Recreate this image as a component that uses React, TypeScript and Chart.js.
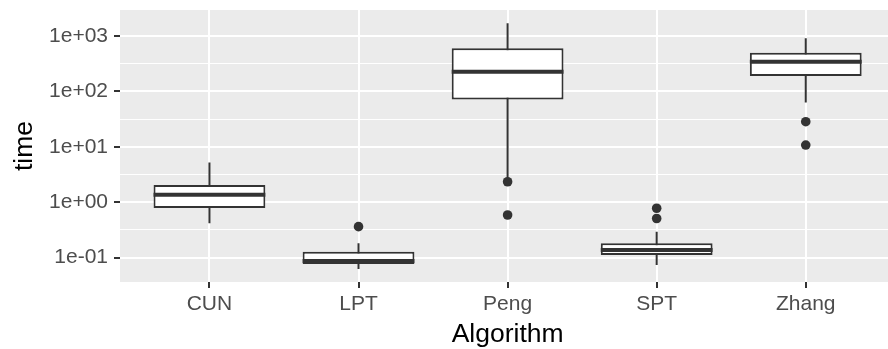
import React, { useEffect, useRef } from 'react';
import { Chart, registerables } from 'chart.js';

Chart.register(...registerables);

const categories = ['CUN', 'LPT', 'Peng', 'SPT', 'Zhang'];
const whiskerLow = [0.42, 0.0625, 2.6, 0.074, 63];
const q1 = [0.79, 0.077, 72, 0.112, 190];
const median = [1.37, 0.087, 228, 0.138, 345];
const q3 = [2.05, 0.128, 602, 0.182, 502];
const whiskerHigh = [5.2, 0.182, 1700, 0.295, 912];
const outlierCategory = [1, 2, 2, 3, 3, 4, 4];
const outlierValue = [0.363, 2.35, 0.59, 0.78, 0.51, 28.5, 10.8];
const yTickValues = [0.1, 1, 10, 100, 1000];
const yTickLabels = ['1e-01', '1e+00', '1e+01', '1e+02', '1e+03'];

const FONT = '"Liberation Sans", Arial, Helvetica, sans-serif';
const BOX_LINE = '#333333';
const BOX_WIDTH = 0.75;

const panelBg = {
  id: 'panelBg',
  beforeDraw(chart: any) {
    const { ctx, chartArea } = chart;
    const { left, top, right, bottom } = chartArea;
    ctx.save();
    ctx.fillStyle = '#EBEBEB';
    ctx.fillRect(left, top, right - left, bottom - top);
    ctx.restore();
  },
};

export default function App() {
  const canvasRef = useRef<HTMLCanvasElement | null>(null);

  useEffect(() => {
    if (!canvasRef.current) return;
    const yMinor = yTickValues.slice(1).map((v, i) => Math.sqrt(v * yTickValues[i]));
    const isMajor = (v: number) => yTickValues.indexOf(v) >= 0;

    const medianSegments: any[] = [];
    categories.forEach((_, i) => {
      medianSegments.push({ x: i - BOX_WIDTH / 2, y: median[i] });
      medianSegments.push({ x: i + BOX_WIDTH / 2, y: median[i] });
      medianSegments.push({ x: i + 0.5, y: null });
    });

    const chart = new Chart(canvasRef.current, {
      type: 'bar',
      data: {
        datasets: [
          {
            type: 'scatter',
            label: 'outliers',
            data: outlierCategory.map((c, i) => ({ x: c, y: outlierValue[i] })),
            pointRadius: 4.8,
            pointBackgroundColor: BOX_LINE,
            pointBorderWidth: 0,
            order: 0,
          } as any,
          {
            type: 'line',
            label: 'median',
            data: medianSegments,
            borderColor: BOX_LINE,
            borderWidth: 4,
            pointRadius: 0,
            spanGaps: false,
            fill: false,
            order: 1,
          } as any,
          {
            type: 'bar',
            label: 'box',
            data: categories.map((_, i) => ({ x: i, y: [q1[i], q3[i]] })),
            backgroundColor: '#FFFFFF',
            borderColor: BOX_LINE,
            borderWidth: 2,
            borderSkipped: false,
            inflateAmount: 0,
            grouped: false,
            categoryPercentage: 1,
            barPercentage: BOX_WIDTH,
            order: 2,
          } as any,
          {
            type: 'bar',
            label: 'whiskers',
            data: categories.map((_, i) => ({ x: i, y: [whiskerLow[i], whiskerHigh[i]] })),
            backgroundColor: BOX_LINE,
            borderWidth: 0,
            inflateAmount: 0,
            barThickness: 2,
            grouped: false,
            order: 3,
          } as any,
        ],
      },
      options: {
        animation: false,
        responsive: false,
        maintainAspectRatio: false,
        devicePixelRatio: 1,
        events: [],
        layout: { padding: { left: 0, right: 0, top: 10, bottom: 0 } },
        plugins: {
          legend: { display: false },
          tooltip: { enabled: false },
        },
        scales: {
          x: {
            type: 'linear',
            min: -0.6,
            max: 4.6,
            offset: false,
            afterBuildTicks: (s: any) => {
              s.ticks = categories.map((_, i) => ({ value: i }));
            },
            afterFit: (s: any) => {
              s.height = 69;
              s.paddingLeft = 0;
              s.paddingRight = 0;
            },
            border: { display: false },
            grid: {
              offset: false,
              color: '#FFFFFF',
              lineWidth: 2,
              drawTicks: true,
              tickLength: 6,
              tickColor: BOX_LINE,
              tickWidth: 2,
            },
            ticks: {
              autoSkip: false,
              maxRotation: 0,
              minRotation: 0,
              padding: 4,
              color: '#4D4D4D',
              font: { family: FONT, size: 21 },
              callback: (v: any) => categories[Number(v)] ?? '',
            },
            title: {
              display: true,
              text: 'Algorithm',
              color: '#000000',
              font: { family: FONT, size: 26.5 },
              padding: { top: 0, bottom: 0 },
            },
          } as any,
          y: {
            type: 'logarithmic',
            min: 0.0364,
            max: 2958,
            afterBuildTicks: (s: any) => {
              s.ticks = [...yTickValues, ...yMinor]
                .sort((a, b) => a - b)
                .map((v) => ({ value: v }));
            },
            afterFit: (s: any) => {
              s.width = 120;
              s.paddingTop = 0;
              s.paddingBottom = 0;
            },
            border: { display: false },
            grid: {
              color: '#FFFFFF',
              lineWidth: (ctx: any) => (ctx.tick && isMajor(ctx.tick.value) ? 2 : 1),
              drawTicks: true,
              tickLength: 6,
              tickColor: (ctx: any) =>
                ctx.tick && isMajor(ctx.tick.value) ? BOX_LINE : 'rgba(0,0,0,0)',
              tickWidth: 2,
            },
            ticks: {
              autoSkip: false,
              padding: 6,
              color: '#4D4D4D',
              font: { family: FONT, size: 21 },
              callback: (v: any) => {
                const i = yTickValues.indexOf(Number(v));
                return i >= 0 ? yTickLabels[i] : '';
              },
            },
            title: {
              display: true,
              text: 'time',
              color: '#000000',
              font: { family: FONT, size: 26.5 },
              padding: { top: 9, bottom: 0 },
            },
          } as any,
        },
      },
      plugins: [panelBg],
    } as any);

    return () => chart.destroy();
  }, []);

  return (
    <div
      style={{
        position: 'absolute',
        left: 0,
        top: 0,
        width: 888,
        height: 349,
        overflow: 'hidden',
        background: '#FFFFFF',
      }}
    >
      <canvas ref={canvasRef} width={900} height={351} style={{ display: 'block' }} />
    </div>
  );
}
